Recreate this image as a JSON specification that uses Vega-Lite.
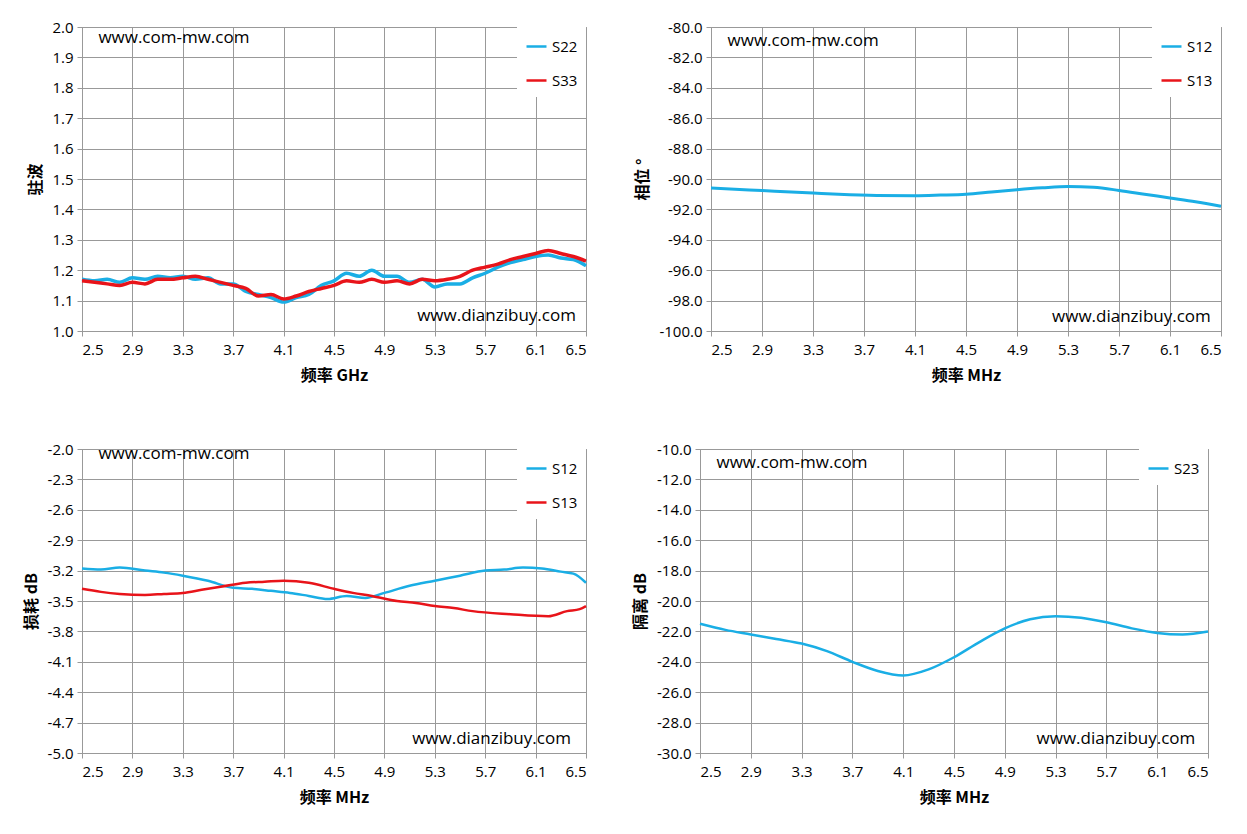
{
  "$schema": "https://vega.github.io/schema/vega-lite/v6.json",
  "padding": {"left": 22, "top": 19, "right": 5, "bottom": 5},
  "background": "white",
  "datasets": {
    "vswr": [
      {"f":2.5,"s":"S22","v":1.17},{"f":2.6,"s":"S22","v":1.165},{"f":2.7,"s":"S22","v":1.17},{"f":2.8,"s":"S22","v":1.16},{"f":2.9,"s":"S22","v":1.175},{"f":3.0,"s":"S22","v":1.17},{"f":3.1,"s":"S22","v":1.18},{"f":3.2,"s":"S22","v":1.175},{"f":3.3,"s":"S22","v":1.18},{"f":3.4,"s":"S22","v":1.17},{"f":3.5,"s":"S22","v":1.175},{"f":3.6,"s":"S22","v":1.155},{"f":3.7,"s":"S22","v":1.155},{"f":3.8,"s":"S22","v":1.13},{"f":3.9,"s":"S22","v":1.12},{"f":4.0,"s":"S22","v":1.11},{"f":4.1,"s":"S22","v":1.095},{"f":4.2,"s":"S22","v":1.11},{"f":4.3,"s":"S22","v":1.12},{"f":4.4,"s":"S22","v":1.15},{"f":4.5,"s":"S22","v":1.165},{"f":4.6,"s":"S22","v":1.19},{"f":4.7,"s":"S22","v":1.18},{"f":4.8,"s":"S22","v":1.2},{"f":4.9,"s":"S22","v":1.18},{"f":5.0,"s":"S22","v":1.18},{"f":5.1,"s":"S22","v":1.16},{"f":5.2,"s":"S22","v":1.17},{"f":5.3,"s":"S22","v":1.145},{"f":5.4,"s":"S22","v":1.155},{"f":5.5,"s":"S22","v":1.155},{"f":5.6,"s":"S22","v":1.175},{"f":5.7,"s":"S22","v":1.19},{"f":5.8,"s":"S22","v":1.21},{"f":5.9,"s":"S22","v":1.225},{"f":6.0,"s":"S22","v":1.235},{"f":6.1,"s":"S22","v":1.245},{"f":6.2,"s":"S22","v":1.25},{"f":6.3,"s":"S22","v":1.24},{"f":6.4,"s":"S22","v":1.235},{"f":6.5,"s":"S22","v":1.215},
      {"f":2.5,"s":"S33","v":1.165},{"f":2.6,"s":"S33","v":1.16},{"f":2.7,"s":"S33","v":1.155},{"f":2.8,"s":"S33","v":1.15},{"f":2.9,"s":"S33","v":1.16},{"f":3.0,"s":"S33","v":1.155},{"f":3.1,"s":"S33","v":1.17},{"f":3.2,"s":"S33","v":1.17},{"f":3.3,"s":"S33","v":1.175},{"f":3.4,"s":"S33","v":1.18},{"f":3.5,"s":"S33","v":1.17},{"f":3.6,"s":"S33","v":1.16},{"f":3.7,"s":"S33","v":1.15},{"f":3.8,"s":"S33","v":1.14},{"f":3.9,"s":"S33","v":1.115},{"f":4.0,"s":"S33","v":1.12},{"f":4.1,"s":"S33","v":1.105},{"f":4.2,"s":"S33","v":1.115},{"f":4.3,"s":"S33","v":1.13},{"f":4.4,"s":"S33","v":1.14},{"f":4.5,"s":"S33","v":1.15},{"f":4.6,"s":"S33","v":1.165},{"f":4.7,"s":"S33","v":1.16},{"f":4.8,"s":"S33","v":1.17},{"f":4.9,"s":"S33","v":1.16},{"f":5.0,"s":"S33","v":1.165},{"f":5.1,"s":"S33","v":1.155},{"f":5.2,"s":"S33","v":1.17},{"f":5.3,"s":"S33","v":1.165},{"f":5.4,"s":"S33","v":1.17},{"f":5.5,"s":"S33","v":1.18},{"f":5.6,"s":"S33","v":1.2},{"f":5.7,"s":"S33","v":1.21},{"f":5.8,"s":"S33","v":1.22},{"f":5.9,"s":"S33","v":1.235},{"f":6.0,"s":"S33","v":1.245},{"f":6.1,"s":"S33","v":1.255},{"f":6.2,"s":"S33","v":1.265},{"f":6.3,"s":"S33","v":1.255},{"f":6.4,"s":"S33","v":1.245},{"f":6.5,"s":"S33","v":1.23}
    ],
    "phase": [
      {"f":2.5,"s":"S12","v":-90.6},{"f":2.8,"s":"S12","v":-90.72},{"f":3.0,"s":"S12","v":-90.8},{"f":3.3,"s":"S12","v":-90.92},{"f":3.5,"s":"S12","v":-91.0},{"f":3.8,"s":"S12","v":-91.08},{"f":4.1,"s":"S12","v":-91.1},{"f":4.3,"s":"S12","v":-91.06},{"f":4.5,"s":"S12","v":-91.0},{"f":4.7,"s":"S12","v":-90.85},{"f":4.9,"s":"S12","v":-90.7},{"f":5.1,"s":"S12","v":-90.58},{"f":5.3,"s":"S12","v":-90.5},{"f":5.5,"s":"S12","v":-90.55},{"f":5.7,"s":"S12","v":-90.75},{"f":5.9,"s":"S12","v":-91.0},{"f":6.1,"s":"S12","v":-91.25},{"f":6.3,"s":"S12","v":-91.5},{"f":6.5,"s":"S12","v":-91.8}
    ],
    "loss": [
      {"f":2.5,"s":"S12","v":-3.18},{"f":2.65,"s":"S12","v":-3.19},{"f":2.8,"s":"S12","v":-3.17},{"f":3.0,"s":"S12","v":-3.2},{"f":3.15,"s":"S12","v":-3.22},{"f":3.3,"s":"S12","v":-3.25},{"f":3.5,"s":"S12","v":-3.3},{"f":3.7,"s":"S12","v":-3.37},{"f":3.85,"s":"S12","v":-3.38},{"f":4.0,"s":"S12","v":-3.4},{"f":4.15,"s":"S12","v":-3.42},{"f":4.3,"s":"S12","v":-3.45},{"f":4.45,"s":"S12","v":-3.48},{"f":4.6,"s":"S12","v":-3.45},{"f":4.75,"s":"S12","v":-3.47},{"f":4.9,"s":"S12","v":-3.42},{"f":5.1,"s":"S12","v":-3.35},{"f":5.3,"s":"S12","v":-3.3},{"f":5.5,"s":"S12","v":-3.25},{"f":5.7,"s":"S12","v":-3.2},{"f":5.85,"s":"S12","v":-3.19},{"f":6.0,"s":"S12","v":-3.17},{"f":6.15,"s":"S12","v":-3.18},{"f":6.3,"s":"S12","v":-3.21},{"f":6.4,"s":"S12","v":-3.23},{"f":6.5,"s":"S12","v":-3.32},
      {"f":2.5,"s":"S13","v":-3.38},{"f":2.65,"s":"S13","v":-3.41},{"f":2.8,"s":"S13","v":-3.43},{"f":3.0,"s":"S13","v":-3.44},{"f":3.15,"s":"S13","v":-3.43},{"f":3.3,"s":"S13","v":-3.42},{"f":3.45,"s":"S13","v":-3.39},{"f":3.6,"s":"S13","v":-3.36},{"f":3.8,"s":"S13","v":-3.32},{"f":3.95,"s":"S13","v":-3.31},{"f":4.1,"s":"S13","v":-3.3},{"f":4.3,"s":"S13","v":-3.32},{"f":4.5,"s":"S13","v":-3.38},{"f":4.65,"s":"S13","v":-3.42},{"f":4.8,"s":"S13","v":-3.45},{"f":5.0,"s":"S13","v":-3.5},{"f":5.15,"s":"S13","v":-3.52},{"f":5.3,"s":"S13","v":-3.55},{"f":5.45,"s":"S13","v":-3.57},{"f":5.6,"s":"S13","v":-3.6},{"f":5.9,"s":"S13","v":-3.63},{"f":6.2,"s":"S13","v":-3.65},{"f":6.35,"s":"S13","v":-3.6},{"f":6.45,"s":"S13","v":-3.58},{"f":6.5,"s":"S13","v":-3.55}
    ],
    "iso": [
      {"f":2.5,"s":"S23","v":-21.5},{"f":2.7,"s":"S23","v":-21.9},{"f":2.9,"s":"S23","v":-22.2},{"f":3.1,"s":"S23","v":-22.5},{"f":3.3,"s":"S23","v":-22.8},{"f":3.5,"s":"S23","v":-23.3},{"f":3.7,"s":"S23","v":-24.0},{"f":3.9,"s":"S23","v":-24.6},{"f":4.1,"s":"S23","v":-24.9},{"f":4.3,"s":"S23","v":-24.5},{"f":4.5,"s":"S23","v":-23.7},{"f":4.7,"s":"S23","v":-22.7},{"f":4.9,"s":"S23","v":-21.8},{"f":5.1,"s":"S23","v":-21.2},{"f":5.3,"s":"S23","v":-21.0},{"f":5.5,"s":"S23","v":-21.1},{"f":5.7,"s":"S23","v":-21.4},{"f":5.9,"s":"S23","v":-21.8},{"f":6.1,"s":"S23","v":-22.1},{"f":6.3,"s":"S23","v":-22.2},{"f":6.5,"s":"S23","v":-22.0}
    ]
  },
  "vconcat": [
    {
      "hconcat": [
        {
          "width": 504, "height": 304,
          "layer": [
            {
              "data": {"name": "vswr"},
              "mark": {"type": "line", "strokeWidth": 3.5},
              "encoding": {
                "x": {"field": "f", "type": "quantitative", "scale": {"domain": [2.5, 6.5], "nice": false}, "axis": {"values": [2.5,2.9,3.3,3.7,4.1,4.5,4.9,5.3,5.7,6.1,6.5], "format": ".1f"}, "title": "频率 GHz"},
                "y": {"field": "v", "type": "quantitative", "scale": {"domain": [1.0, 2.0], "nice": false}, "axis": {"values": [1.0,1.1,1.2,1.3,1.4,1.5,1.6,1.7,1.8,1.9,2.0], "format": ".1f"}, "title": "驻波"},
                "color": {"field": "s", "type": "nominal", "scale": {"domain": ["S22","S33"], "range": ["#1aaee5","#e8141a"]}, "title": null}
              }
            },
            {"data": {"values": [{"f": 2.63, "v": 1.965, "t": "www.com-mw.com"}]}, "mark": {"type": "text", "align": "left", "baseline": "middle", "fontSize": 17, "font": "Open Sans"}, "encoding": {"x": {"field": "f", "type": "quantitative"}, "y": {"field": "v", "type": "quantitative"}, "text": {"field": "t"}}},
            {"data": {"values": [{"f": 6.42, "v": 1.05, "t": "www.dianzibuy.com"}]}, "mark": {"type": "text", "align": "right", "baseline": "middle", "fontSize": 17, "font": "Open Sans"}, "encoding": {"x": {"field": "f", "type": "quantitative"}, "y": {"field": "v", "type": "quantitative"}, "text": {"field": "t"}}}
          ]
        },
        {
          "width": 510, "height": 304,
          "layer": [
            {
              "data": {"name": "phase"},
              "mark": {"type": "line", "strokeWidth": 3},
              "encoding": {
                "x": {"field": "f", "type": "quantitative", "scale": {"domain": [2.5, 6.5], "nice": false}, "axis": {"values": [2.5,2.9,3.3,3.7,4.1,4.5,4.9,5.3,5.7,6.1,6.5], "format": ".1f"}, "title": "频率 MHz"},
                "y": {"field": "v", "type": "quantitative", "scale": {"domain": [-100, -80], "nice": false}, "axis": {"values": [-100,-98,-96,-94,-92,-90,-88,-86,-84,-82,-80], "format": ".1f"}, "title": "相位 °"},
                "color": {"field": "s", "type": "nominal", "scale": {"domain": ["S12","S13"], "range": ["#1aaee5","#e8141a"]}, "title": null}
              }
            },
            {"data": {"values": [{"f": 2.63, "v": -80.9, "t": "www.com-mw.com"}]}, "mark": {"type": "text", "align": "left", "baseline": "middle", "fontSize": 17, "font": "Open Sans"}, "encoding": {"x": {"field": "f", "type": "quantitative"}, "y": {"field": "v", "type": "quantitative"}, "text": {"field": "t"}}},
            {"data": {"values": [{"f": 6.42, "v": -99.1, "t": "www.dianzibuy.com"}]}, "mark": {"type": "text", "align": "right", "baseline": "middle", "fontSize": 17, "font": "Open Sans"}, "encoding": {"x": {"field": "f", "type": "quantitative"}, "y": {"field": "v", "type": "quantitative"}, "text": {"field": "t"}}}
          ]
        }
      ],
      "spacing": 40,
      "resolve": {"scale": {"color": "independent"}, "legend": {"color": "independent"}}
    },
    {
      "hconcat": [
        {
          "width": 504, "height": 304,
          "layer": [
            {
              "data": {"name": "loss"},
              "mark": {"type": "line", "strokeWidth": 2.5},
              "encoding": {
                "x": {"field": "f", "type": "quantitative", "scale": {"domain": [2.5, 6.5], "nice": false}, "axis": {"values": [2.5,2.9,3.3,3.7,4.1,4.5,4.9,5.3,5.7,6.1,6.5], "format": ".1f"}, "title": "频率 MHz"},
                "y": {"field": "v", "type": "quantitative", "scale": {"domain": [-5, -2], "nice": false}, "axis": {"values": [-5,-4.7,-4.4,-4.1,-3.8,-3.5,-3.2,-2.9,-2.6,-2.3,-2], "format": ".1f"}, "title": "损耗 dB"},
                "color": {"field": "s", "type": "nominal", "scale": {"domain": ["S12","S13"], "range": ["#1aaee5","#e8141a"]}, "title": null}
              }
            },
            {"data": {"values": [{"f": 2.63, "v": -2.045, "t": "www.com-mw.com"}]}, "mark": {"type": "text", "align": "left", "baseline": "middle", "fontSize": 17, "font": "Open Sans"}, "encoding": {"x": {"field": "f", "type": "quantitative"}, "y": {"field": "v", "type": "quantitative"}, "text": {"field": "t"}}},
            {"data": {"values": [{"f": 6.38, "v": -4.86, "t": "www.dianzibuy.com"}]}, "mark": {"type": "text", "align": "right", "baseline": "middle", "fontSize": 17, "font": "Open Sans"}, "encoding": {"x": {"field": "f", "type": "quantitative"}, "y": {"field": "v", "type": "quantitative"}, "text": {"field": "t"}}}
          ]
        },
        {
          "width": 508, "height": 304,
          "layer": [
            {
              "data": {"name": "iso"},
              "mark": {"type": "line", "strokeWidth": 2.5},
              "encoding": {
                "x": {"field": "f", "type": "quantitative", "scale": {"domain": [2.5, 6.5], "nice": false}, "axis": {"values": [2.5,2.9,3.3,3.7,4.1,4.5,4.9,5.3,5.7,6.1,6.5], "format": ".1f"}, "title": "频率 MHz"},
                "y": {"field": "v", "type": "quantitative", "scale": {"domain": [-30, -10], "nice": false}, "axis": {"values": [-30,-28,-26,-24,-22,-20,-18,-16,-14,-12,-10], "format": ".1f"}, "title": "隔离 dB"},
                "color": {"field": "s", "type": "nominal", "scale": {"domain": ["S23"], "range": ["#1aaee5"]}, "title": null}
              }
            },
            {"data": {"values": [{"f": 2.63, "v": -10.9, "t": "www.com-mw.com"}]}, "mark": {"type": "text", "align": "left", "baseline": "middle", "fontSize": 17, "font": "Open Sans"}, "encoding": {"x": {"field": "f", "type": "quantitative"}, "y": {"field": "v", "type": "quantitative"}, "text": {"field": "t"}}},
            {"data": {"values": [{"f": 6.4, "v": -29.1, "t": "www.dianzibuy.com"}]}, "mark": {"type": "text", "align": "right", "baseline": "middle", "fontSize": 17, "font": "Open Sans"}, "encoding": {"x": {"field": "f", "type": "quantitative"}, "y": {"field": "v", "type": "quantitative"}, "text": {"field": "t"}}}
          ]
        }
      ],
      "spacing": 40,
      "resolve": {"scale": {"color": "independent"}, "legend": {"color": "independent"}}
    }
  ],
  "spacing": 57,
  "resolve": {"scale": {"color": "independent"}, "legend": {"color": "independent"}},
  "config": {
    "view": {"stroke": "#999999"},
    "axis": {"gridColor": "#999999", "gridOpacity": 1, "domainColor": "#999999", "tickColor": "#999999", "labelFont": "Open Sans", "labelFontSize": 15, "labelColor": "#000", "labelOverlap": false, "tickCount": 11, "labelExpr": "replace(datum.label, '\u2212', '-')", "titleFont": "Noto Sans CJK SC", "titleFontSize": 16, "titleFontWeight": "bold", "titleColor": "#000"},
    "axisX": {"labelPadding": 6, "titlePadding": 10},
    "axisY": {"labelPadding": 4, "titlePadding": 8},
    "legend": {"orient": "top-right", "symbolType": "stroke", "symbolStrokeWidth": 2.5, "symbolSize": 400, "labelFont": "Open Sans", "labelFontSize": 15, "labelColor": "#000", "fillColor": "white", "padding": 8, "rowPadding": 14, "offset": 0},
    "line": {"interpolate": "monotone"}
  }
}
